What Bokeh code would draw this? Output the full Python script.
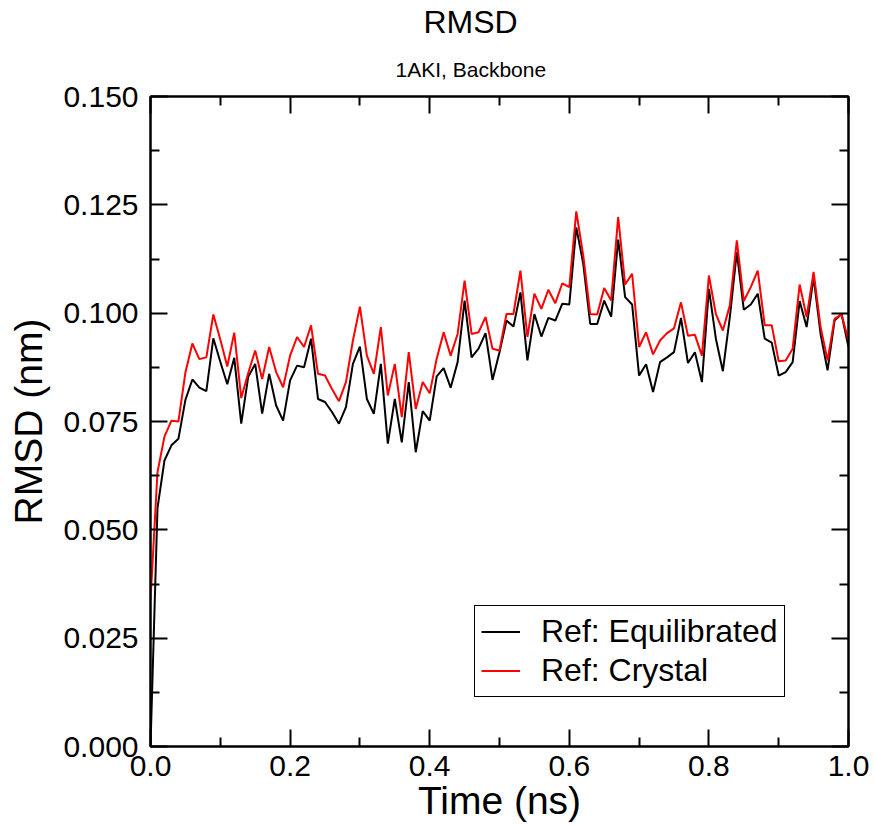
import numpy as np
from bokeh.plotting import figure
from bokeh.models import (FixedTicker, NumeralTickFormatter, LinearAxis, Range1d,
                          Legend, LegendItem, Title, CustomJSTickFormatter)
from bokeh.embed import file_html
from bokeh.resources import INLINE

# ---- data ----
time_ns = np.round(np.arange(101) * 0.01, 2)

rmsd_equilibrated = [
    0.0, 0.055, 0.066, 0.0695, 0.071, 0.080, 0.0847, 0.0828, 0.082, 0.0942,
    0.0888, 0.0836, 0.0897, 0.0745, 0.0853, 0.0883, 0.0768, 0.086, 0.0787, 0.0752,
    0.0845, 0.0879, 0.0875, 0.0941, 0.0802, 0.0795, 0.0772, 0.0745, 0.0783, 0.0883,
    0.0923, 0.0802, 0.0768, 0.0883, 0.0699, 0.0802, 0.0702, 0.0841, 0.0679, 0.0774,
    0.0752, 0.0854, 0.0873, 0.0828, 0.0887, 0.1029, 0.0898, 0.0918, 0.0954, 0.0846,
    0.091, 0.0983, 0.0969, 0.1048, 0.0891, 0.0998, 0.0946, 0.0989, 0.0983, 0.1022,
    0.102, 0.1198, 0.1114, 0.0975, 0.0975, 0.1029, 0.0992, 0.117, 0.1037, 0.102,
    0.0856, 0.0882, 0.0818, 0.0887, 0.0898, 0.091, 0.0989, 0.0885, 0.091, 0.0841,
    0.1056, 0.0941, 0.0866, 0.0991, 0.1141, 0.1008, 0.102, 0.1045, 0.0941, 0.0932,
    0.0856, 0.0864, 0.0887, 0.1028, 0.0968, 0.1083, 0.0952, 0.0868, 0.0983, 0.0998,
    0.0922,
]

rmsd_crystal = [
    0.0337, 0.0633, 0.0715, 0.0752, 0.075, 0.0863, 0.093, 0.0894, 0.0898, 0.0997,
    0.0939, 0.0877, 0.0955, 0.0804, 0.0862, 0.0914, 0.0848, 0.0922, 0.0864, 0.0829,
    0.0902, 0.0945, 0.0922, 0.0972, 0.086, 0.0856, 0.0825, 0.0797, 0.0841, 0.0937,
    0.1015, 0.0902, 0.086, 0.0968, 0.081, 0.0883, 0.076, 0.091, 0.0779, 0.0841,
    0.0815, 0.0895, 0.0956, 0.0902, 0.0952, 0.1075, 0.0952, 0.0956, 0.0991, 0.0918,
    0.0914, 0.0998, 0.0998, 0.1098, 0.0945, 0.1045, 0.101, 0.1054, 0.1023, 0.1069,
    0.106, 0.1235, 0.1133, 0.0998, 0.0997, 0.1058, 0.1029, 0.1222, 0.1066, 0.1091,
    0.0922, 0.0956, 0.0905, 0.0937, 0.0954, 0.0965, 0.1025, 0.0948, 0.095, 0.0902,
    0.1087, 0.0998, 0.096, 0.1018, 0.1168, 0.1028, 0.106, 0.1098, 0.0972, 0.0972,
    0.0889, 0.0891, 0.0918, 0.1066, 0.0991, 0.1095, 0.0968, 0.0891, 0.0987, 0.0997,
    0.0937,
]

x_major = [0.0, 0.2, 0.4, 0.6, 0.8, 1.0]
x_minor = [0.1, 0.3, 0.5, 0.7, 0.9]
y_major = [0.0, 0.025, 0.05, 0.075, 0.1, 0.125, 0.15]
y_minor = [0.0125, 0.0375, 0.0625, 0.0875, 0.1125, 0.1375]

series_labels = ["Ref: Equilibrated", "Ref: Crystal"]
series_colors = ["#000000", "#ff0000"]

FONT = "Liberation Sans"

p = figure(width=875, height=825, output_backend="svg", toolbar_location=None,
           x_range=Range1d(0, 1), y_range=Range1d(0, 0.15),
           min_border_left=150, min_border_right=27, min_border_top=96,
           min_border_bottom=79)
p.grid.visible = False
p.outline_line_color = "black"
p.outline_line_width = 2
p.background_fill_color = "white"
p.border_fill_color = "white"

xt = FixedTicker(ticks=x_major, minor_ticks=x_minor)
yt = FixedTicker(ticks=y_major, minor_ticks=y_minor)


def style_axis(ax, labels=True):
    ax.axis_line_color = "black"
    ax.axis_line_width = 2
    ax.major_tick_line_color = "black"
    ax.major_tick_line_width = 2
    ax.minor_tick_line_color = "black"
    ax.minor_tick_line_width = 2
    ax.major_tick_in = 17
    ax.major_tick_out = 0
    ax.minor_tick_in = 9
    ax.minor_tick_out = 0
    ax.major_label_text_font = FONT
    ax.axis_label_text_font = FONT
    ax.axis_label_text_font_style = "normal"
    ax.major_label_text_color = "black"
    ax.axis_label_text_color = "black"
    if not labels:
        ax.formatter = CustomJSTickFormatter(code="return ''")
        ax.major_label_text_font_size = "0px"
        ax.major_label_standoff = 0


p.xaxis.ticker = xt
p.yaxis.ticker = yt
p.xaxis.formatter = NumeralTickFormatter(format="0.0")
p.yaxis.formatter = NumeralTickFormatter(format="0.000")
style_axis(p.xaxis[0])
style_axis(p.yaxis[0])
p.xaxis.major_label_text_font_size = "30px"
p.yaxis.major_label_text_font_size = "30px"
p.xaxis.axis_label = "Time (ns)"
p.yaxis.axis_label = "RMSD (nm)"
p.xaxis.axis_label_text_font_size = "39px"
p.yaxis.axis_label_text_font_size = "39px"
p.xaxis.major_label_standoff = 9
p.yaxis.major_label_standoff = 12
p.xaxis.axis_label_standoff = 0
p.yaxis.axis_label_standoff = 10

top_ax = LinearAxis(ticker=xt)
style_axis(top_ax, labels=False)
p.add_layout(top_ax, "above")
right_ax = LinearAxis(ticker=yt)
style_axis(right_ax, labels=False)
p.add_layout(right_ax, "right")

r_eq = p.line(time_ns, rmsd_equilibrated, line_color=series_colors[0], line_width=2)
r_cr = p.line(time_ns, rmsd_crystal, line_color=series_colors[1], line_width=2)

legend = Legend(items=[LegendItem(label=series_labels[0], renderers=[r_eq]),
                       LegendItem(label=series_labels[1], renderers=[r_cr])],
                location=(324, 49))
legend.label_text_font = FONT
legend.label_text_font_size = "32px"
legend.label_text_color = "black"
legend.label_height = 39
legend.glyph_height = 39
legend.glyph_width = 39
legend.label_standoff = 21
legend.spacing = 0
legend.padding = 6
legend.margin = 0
legend.border_line_color = "black"
legend.border_line_width = 1.5
legend.border_line_alpha = 1.0
legend.background_fill_color = "white"
p.add_layout(legend)

sub = Title(text="1AKI, Backbone", text_font=FONT, text_font_size="21px",
            text_font_style="normal", text_color="black", align="left", offset=245,
            standoff=31)
p.add_layout(sub, "above")
ttl = Title(text="RMSD", text_font=FONT, text_font_size="32px",
            text_font_style="normal", text_color="black", align="left", offset=273,
            standoff=2)
p.add_layout(ttl, "above")

open("out.html", "w").write(file_html(p, INLINE))
